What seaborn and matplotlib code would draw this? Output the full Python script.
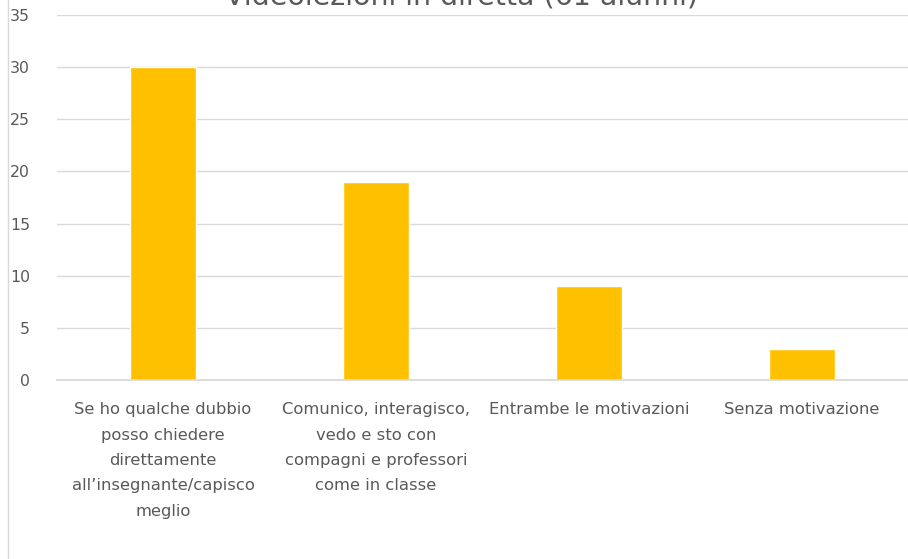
import matplotlib
matplotlib.use("Agg")
import matplotlib.pyplot as plt
import seaborn as sns
import pandas as pd
from matplotlib.lines import Line2D

categories = [
    "Se ho qualche dubbio\nposso chiedere\ndirettamente\nall\u2019insegnante/capisco\nmeglio",
    "Comunico, interagisco,\nvedo e sto con\ncompagni e professori\ncome in classe",
    "Entrambe le motivazioni",
    "Senza motivazione",
]
values = [30, 19, 9, 3]
yticks = [0, 5, 10, 15, 20, 25, 30, 35]
title = "Videolezioni in diretta (61 alunni)"

sns.set_theme(style="white")
plt.rcParams["font.family"] = ["DejaVu Sans"]

df = pd.DataFrame({"cat": categories, "val": values})

fig = plt.figure(figsize=(9.08, 5.59), dpi=100)
W, H = 908, 559
ax = fig.add_axes([56.5 / W, 1 - 380 / H, 852 / W, 365 / H])

sns.barplot(data=df, x="cat", y="val", color="#FFC000", width=0.31,
            saturation=1, ax=ax)

ax.set_xlim(-0.5, 3.5)
ax.set_ylim(0, 35)
ax.set_yticks(yticks)
ax.set_yticklabels([str(t) for t in yticks])
ax.set_xticks(range(len(categories)))
ax.set_xticklabels(categories, linespacing=1.86, ha="center")
ax.yaxis.grid(True, color="#D9D9D9", linewidth=1)
ax.set_axisbelow(True)
for s in ["top", "right", "left"]:
    ax.spines[s].set_visible(False)
ax.spines["bottom"].set_color("#D9D9D9")
ax.set_xlabel("")
ax.set_ylabel("")
ax.tick_params(axis="y", length=0, pad=19, labelsize=11.3, labelcolor="#595959")
ax.tick_params(axis="x", length=0, pad=16, labelsize=11.8, labelcolor="#595959")

fig.text(462 / W, 1 - 4 / H, title, ha="center", va="baseline",
         fontsize=20.5, color="#595959")

fig.add_artist(Line2D([8 / W, 8 / W], [0, 1], transform=fig.transFigure,
                      color="#D9D9D9", linewidth=1))

fig.savefig("out.png", dpi=100, facecolor="white")
